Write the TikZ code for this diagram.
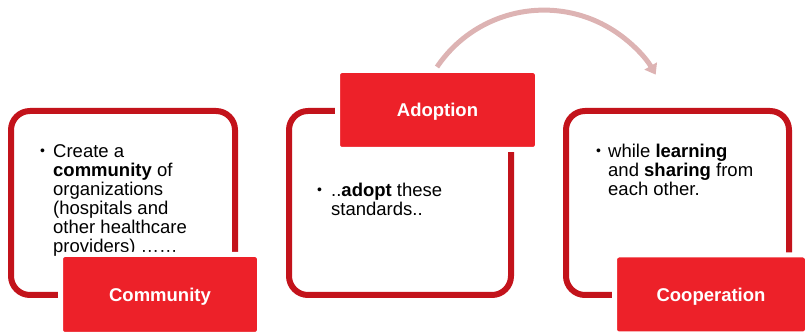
\documentclass[tikz,border=0pt]{standalone}
\usepackage{fontspec}
\setmainfont{Liberation Sans}
\usetikzlibrary{arrows.meta}
\definecolor{outred}{HTML}{C3131B}
\definecolor{labred}{HTML}{ED2129}
\definecolor{arcpink}{HTML}{DDB3B3}
\tikzset{
  outline/.style={draw=outred, line width=6pt, rounded corners=19pt},
  labelbox/.style={fill=labred, draw=white, line width=5pt, rounded corners=4pt,
    text=white, font=\fontsize{18.5}{19}\selectfont\bfseries, inner sep=0pt,
    text height=13.3pt, text depth=0pt},
  bodytext/.style={anchor=north west, align=left, inner sep=0pt,
    font=\fontsize{18.5}{19}\selectfont},
  bullet/.style={anchor=base west, inner sep=0pt, font=\fontsize{14}{14}\selectfont},
  cyclearrow/.style={draw=arcpink, line width=5pt, -{Triangle[width=14pt,length=10pt]}}
}
\begin{document}
\begin{tikzpicture}[x=1pt,y=1pt]
\useasboundingbox (0,0) rectangle (806,334);
% outlines
\draw[outline] (11,39) rectangle (235,223);
\draw[outline] (289,39) rectangle (511,223);
\draw[outline] (566,39) rectangle (789,223);
% body texts
\node[bullet] (b1) at (40,178) {•};
\node[bodytext] (t1) at (53,191) {\rule{0pt}{14pt}Create a\\\textbf{community} of\\organizations\\(hospitals and\\other healthcare\\providers) ……};
\node[bullet] (b2) at (317,139) {•};
\node[bodytext] (t2) at (331,152) {\rule{0pt}{14pt}..\textbf{adopt} these\\standards..};
\node[bullet] (b3) at (596,178) {•};
\node[bodytext] (t3) at (608,191) {\rule{0pt}{14pt}while \textbf{learning}\\and \textbf{sharing} from\\each other.};
% labels
\node[labelbox, minimum width=199pt, minimum height=80pt] (community) at (160,39.5) {Community};
\node[labelbox, minimum width=200pt, minimum height=79pt] (adoption) at (437.5,224) {Adoption};
\node[labelbox, minimum width=193pt, minimum height=79pt] (cooperation) at (711,39.5) {Cooperation};
% arc arrow
\coordinate (arcS) at (437,267);
\draw[cyclearrow] (arcS) arc[start angle=146, end angle=30, radius=129];
\end{tikzpicture}
\end{document}
